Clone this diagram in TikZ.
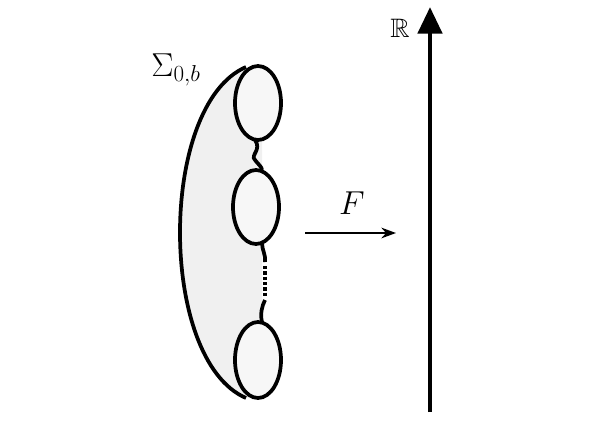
\documentclass[tikz,border=0pt]{standalone}
\usepackage{amssymb}
\usetikzlibrary{arrows.meta,shapes.geometric}
\begin{document}
\begin{tikzpicture}[x=0.75pt,y=-0.75pt,
  ln/.style={line width=2.8pt},
  hole/.style={ln,fill=black!3}]
\useasboundingbox (0,0) rectangle (608,447);
\fill[black!6] (246,67) .. controls (158,105) and (158,360) .. (246,398) -- (262,398) -- (262,67) -- cycle;
\draw[ln] (246,67) .. controls (158,105) and (158,360) .. (246,398);
\draw[ln] (255,140) .. controls (262,150) and (250,155) .. (255,160) .. controls (258,164) and (262,167) .. (262,170);
\draw[ln] (262,243) .. controls (262,250) and (266,255) .. (265,262);
\draw[ln,dash pattern=on 2.5pt off 1.5pt] (265,266) -- (265,298);
\draw[ln] (265,300) .. controls (262,306) and (260,314) .. (262,322);
\node[hole,ellipse,minimum width=34.5pt,minimum height=55.5pt,inner sep=0pt,draw] (e1) at (258,103) {};
\node[hole,ellipse,minimum width=34.5pt,minimum height=55.5pt,inner sep=0pt,draw] (e2) at (256,207) {};
\node[hole,ellipse,minimum width=34.5pt,minimum height=57pt,inner sep=0pt,draw] (e3) at (258,360) {};
\node (sig) at (176,70) {\fontsize{24}{28}\selectfont$\Sigma_{0,b}$};
\coordinate (a1) at (305,233);
\coordinate (a2) at (396,233);
\draw[line width=1.5pt,-{Stealth[length=11pt,width=8pt]}] (a1) -- (a2);
\node (F) at (352,203) {\fontsize{26}{30}\selectfont$F$};
\coordinate (r1) at (430,412);
\coordinate (r2) at (430,7);
\draw[line width=3.6pt,-{Triangle[length=20pt,width=18pt]}] (r1) -- (r2);
\node (R) at (400,28) {\fontsize{20}{24}\selectfont$\mathbb{R}$};
\end{tikzpicture}
\end{document}
